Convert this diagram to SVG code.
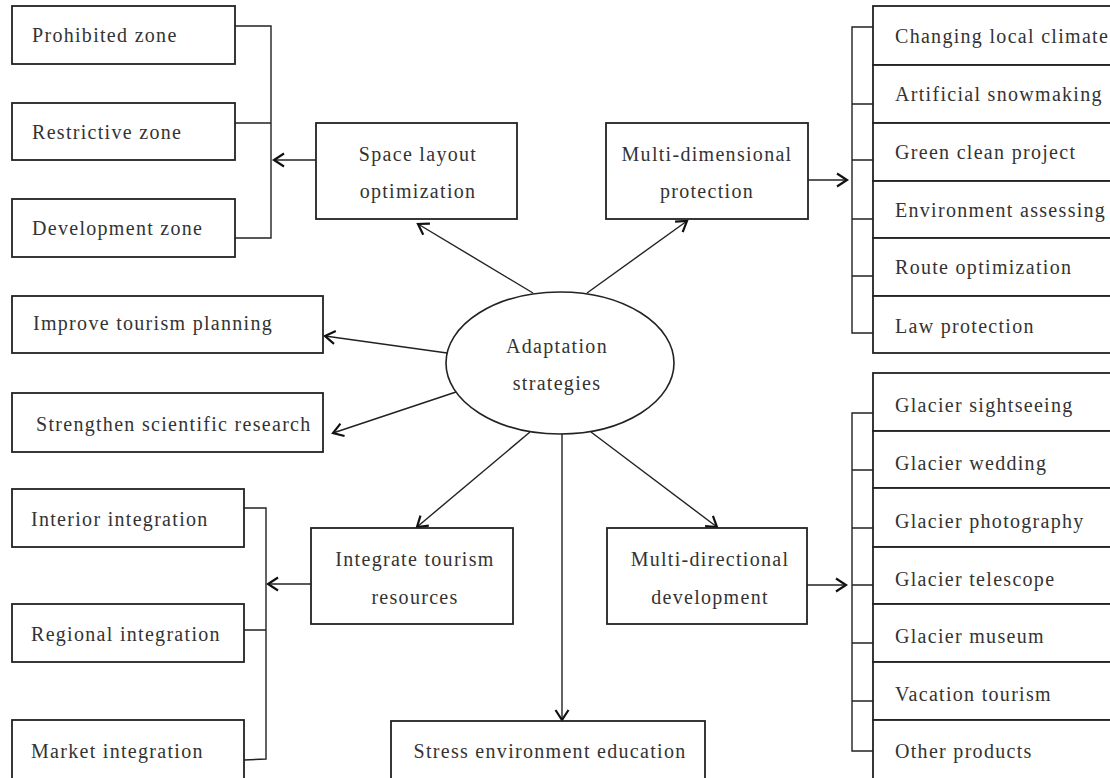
<svg xmlns="http://www.w3.org/2000/svg" width="1110" height="778" viewBox="0 0 1110 778">
<style>
.box{fill:#fff;stroke:#222;stroke-width:1.8}
.t{font-family:"Liberation Serif","Times New Roman",serif;font-size:20px;fill:#333;letter-spacing:1.3px}
.c{text-anchor:middle}
.ln{fill:none;stroke:#222;stroke-width:1.4}
.ar{fill:none;stroke:#222;stroke-width:1.4;marker-end:url(#arr)}
</style>
<defs>
<marker id="arr" markerUnits="userSpaceOnUse" markerWidth="14" markerHeight="16" refX="12" refY="8" orient="auto" overflow="visible">
<path d="M2,1.5 L12,8 L2,14.5" fill="none" stroke="#111" stroke-width="2.2"/>
</marker>
</defs>
<rect width="1110" height="778" fill="#fff"/>

<g id="connectors">
<line class="ar" x1="533" y1="293" x2="418" y2="224"/>
<line class="ar" x1="587" y1="293" x2="687" y2="221"/>
<line class="ar" x1="447" y1="353" x2="325" y2="336"/>
<line class="ar" x1="456" y1="392" x2="333" y2="433"/>
<line class="ar" x1="530" y1="432" x2="417" y2="527"/>
<line class="ar" x1="591" y1="432" x2="717" y2="527"/>
<line class="ar" x1="562" y1="434" x2="562" y2="720"/>
<line class="ar" x1="316" y1="160" x2="274" y2="160"/>
<line class="ar" x1="808" y1="180" x2="847" y2="180"/>
<line class="ar" x1="311" y1="584" x2="268" y2="584"/>
<line class="ar" x1="807" y1="585" x2="846" y2="585"/>
<path class="ln" d="M235,26 H271 V238 H235 M235,123 H271"/>
<path class="ln" d="M244,508 H266 V759 L244,760 M244,630 H266"/>
<path class="ln" d="M873,27 H852 V333 H873 M852,104 H873 M852,160 H873 M852,219 H873 M852,276 H873"/>
<path class="ln" d="M873,413 H852 V751 H873 M852,470 H873 M852,528 H873 M852,585 H873 M852,643 H873 M852,701 H873"/>
</g>

<g id="center">
<ellipse cx="560" cy="363" rx="114" ry="71" fill="#fff" stroke="#222" stroke-width="1.6"/>
<text class="t c" x="557" y="353">Adaptation</text>
<text class="t c" x="557" y="390">strategies</text>
</g>

<g id="prohibited"><rect class="box" x="12" y="6" width="223" height="58"/><text class="t" x="32" y="42">Prohibited zone</text></g>
<g id="restrictive"><rect class="box" x="12" y="103" width="223" height="57"/><text class="t" x="32" y="139">Restrictive zone</text></g>
<g id="development"><rect class="box" x="12" y="199" width="223" height="58"/><text class="t" x="32" y="235">Development zone</text></g>

<g id="space"><rect class="box" x="316" y="123" width="201" height="96"/><text class="t c" x="418" y="161">Space layout</text><text class="t c" x="418" y="198">optimization</text></g>
<g id="multidim"><rect class="box" x="606" y="123" width="202" height="96"/><text class="t c" x="707" y="161">Multi-dimensional</text><text class="t c" x="707" y="198">protection</text></g>

<g id="improve"><rect class="box" x="12" y="296" width="311" height="57"/><text class="t" x="33" y="330">Improve tourism planning</text></g>
<g id="strengthen"><rect class="box" x="12" y="393" width="311" height="59"/><text class="t" x="36" y="431">Strengthen scientific research</text></g>

<g id="interior"><rect class="box" x="12" y="489" width="232" height="58"/><text class="t" x="31" y="526">Interior integration</text></g>
<g id="regional"><rect class="box" x="12" y="604" width="232" height="58"/><text class="t" x="31" y="641">Regional integration</text></g>
<g id="market"><rect class="box" x="12" y="720" width="232" height="70"/><text class="t" x="31" y="758">Market integration</text></g>

<g id="integrate"><rect class="box" x="311" y="528" width="202" height="96"/><text class="t c" x="415" y="566">Integrate tourism</text><text class="t c" x="415" y="604">resources</text></g>
<g id="multidir"><rect class="box" x="607" y="528" width="200" height="96"/><text class="t c" x="710" y="566">Multi-directional</text><text class="t c" x="710" y="604">development</text></g>
<g id="stress"><rect class="box" x="391" y="721" width="314" height="70"/><text class="t c" x="550" y="758">Stress environment education</text></g>

<g id="climate"><rect class="box" x="873" y="6" width="250" height="59"/><text class="t" x="895" y="43">Changing local climate</text></g>
<g id="snow"><rect class="box" x="873" y="65" width="250" height="58"/><text class="t" x="895" y="101">Artificial snowmaking</text></g>
<g id="green"><rect class="box" x="873" y="123" width="250" height="58"/><text class="t" x="895" y="159">Green clean project</text></g>
<g id="assess"><rect class="box" x="873" y="181" width="250" height="57"/><text class="t" x="895" y="217">Environment assessing</text></g>
<g id="route"><rect class="box" x="873" y="238" width="250" height="58"/><text class="t" x="895" y="274">Route optimization</text></g>
<g id="law"><rect class="box" x="873" y="296" width="250" height="57"/><text class="t" x="895" y="333">Law protection</text></g>

<g id="sightseeing"><rect class="box" x="873" y="373" width="250" height="58"/><text class="t" x="895" y="412">Glacier sightseeing</text></g>
<g id="wedding"><rect class="box" x="873" y="431" width="250" height="57"/><text class="t" x="895" y="470">Glacier wedding</text></g>
<g id="photo"><rect class="box" x="873" y="488" width="250" height="59"/><text class="t" x="895" y="528">Glacier photography</text></g>
<g id="telescope"><rect class="box" x="873" y="547" width="250" height="57"/><text class="t" x="895" y="586">Glacier telescope</text></g>
<g id="museum"><rect class="box" x="873" y="604" width="250" height="58"/><text class="t" x="895" y="643">Glacier museum</text></g>
<g id="vacation"><rect class="box" x="873" y="662" width="250" height="58"/><text class="t" x="895" y="701">Vacation tourism</text></g>
<g id="other"><rect class="box" x="873" y="720" width="250" height="70"/><text class="t" x="895" y="758">Other products</text></g>
</svg>
